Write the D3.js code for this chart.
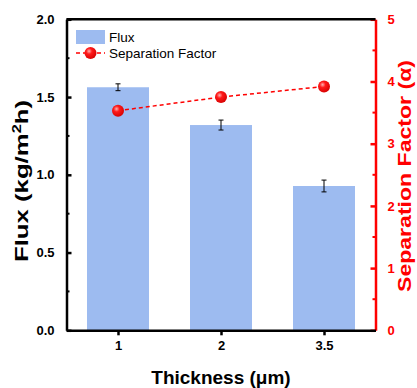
<!DOCTYPE html>
<html>
<head>
<meta charset="utf-8">
<script src="https://cdn.jsdelivr.net/npm/d3@7"></script>
<style>
  html, body { margin: 0; padding: 0; background: #fff; }
  svg { display: block; font-family: Arial, 'Liberation Sans', sans-serif; }
</style>
</head>
<body>
<svg id="chart" width="417" height="388"></svg>
<script>
const thickness = ['1', '2', '3.5']
const flux = [1.563, 1.32, 0.928]
const fluxErr = [0.022, 0.032, 0.038]
const sepFactor = [3.53, 3.75, 3.92]
const fluxTicks = [0, 0.5, 1.0, 1.5, 2.0]
const sepTicks = [0, 1, 2, 3, 4, 5]

const m = { left: 66.5, right: 375.5, top: 19.3, bottom: 330.3 }
const red = '#ff0000'
const barColor = '#9dbbf0'

const svg = d3.select('#chart')

const x = d3.scalePoint(thickness, [m.left, m.right]).padding(0.5)
const yL = d3.scaleLinear([0, 2], [m.bottom, m.top])
const yR = d3.scaleLinear([0, 5], [m.bottom, m.top])
const barW = 62

const defs = svg.append('defs')
const grad = defs.append('radialGradient').attr('id', 'ball')
  .attr('cx', '0.38').attr('cy', '0.35').attr('r', '0.7')
grad.append('stop').attr('offset', '0%').attr('stop-color', '#ffb0b0')
grad.append('stop').attr('offset', '35%').attr('stop-color', '#ff1a1a')
grad.append('stop').attr('offset', '100%').attr('stop-color', '#d40000')

// bars
svg.append('g').selectAll('rect').data(flux).join('rect')
  .attr('x', (d, i) => x(thickness[i]) - barW / 2)
  .attr('y', d => yL(d))
  .attr('width', barW)
  .attr('height', d => yL(0) - yL(d))
  .attr('fill', barColor)

// error bars
const eg = svg.append('g').attr('stroke', '#000').attr('stroke-width', 1)
flux.forEach((d, i) => {
  const cx = x(thickness[i])
  const lo = yL(d - fluxErr[i]), hi = yL(d + fluxErr[i])
  eg.append('line').attr('x1', cx).attr('x2', cx).attr('y1', lo).attr('y2', hi)
  eg.append('line').attr('x1', cx - 2.5).attr('x2', cx + 2.5).attr('y1', lo).attr('y2', lo)
  eg.append('line').attr('x1', cx - 2.5).attr('x2', cx + 2.5).attr('y1', hi).attr('y2', hi)
})

// separation factor line
const line = d3.line().x((d, i) => x(thickness[i])).y(d => yR(d))
svg.append('path').datum(sepFactor)
  .attr('d', line)
  .attr('fill', 'none')
  .attr('stroke', red)
  .attr('stroke-width', 1.5)
  .attr('stroke-dasharray', '4,3')
svg.append('g').selectAll('circle').data(sepFactor).join('circle')
  .attr('cx', (d, i) => x(thickness[i]))
  .attr('cy', d => yR(d))
  .attr('r', 6)
  .attr('fill', 'url(#ball)')

// axes
const leftAxis = d3.axisLeft(yL).tickValues(fluxTicks).tickSizeInner(-5).tickSizeOuter(0)
  .tickFormat(d3.format('.1f')).tickPadding(12)
const gL = svg.append('g').attr('transform', `translate(${m.left},0)`).call(leftAxis)
gL.selectAll('.tick line').attr('stroke-width', 2.5)
gL.selectAll('g.minor').data(d3.range(0.25, 2, 0.5)).join('g')
  .append('line').attr('x1', 0).attr('x2', 3)
  .attr('y1', d => yL(d)).attr('y2', d => yL(d))
  .attr('stroke', '#000').attr('stroke-width', 2)

const rightAxis = d3.axisRight(yR).tickValues(sepTicks).tickSizeInner(-5).tickSizeOuter(0)
  .tickFormat(d3.format('d')).tickPadding(12)
const gR = svg.append('g').attr('transform', `translate(${m.right},0)`).call(rightAxis)
gR.selectAll('.tick line').attr('stroke', red).attr('stroke-width', 2.5)
gR.selectAll('.tick text').attr('fill', red)
gR.selectAll('g.minor').data(d3.range(0.5, 5, 1)).join('g')
  .append('line').attr('x1', 0).attr('x2', -3)
  .attr('y1', d => yR(d)).attr('y2', d => yR(d))
  .attr('stroke', red).attr('stroke-width', 2)

const bottomAxis = d3.axisBottom(x).tickSizeInner(5).tickSizeOuter(0).tickPadding(5)
const gB = svg.append('g').attr('transform', `translate(0,${m.bottom})`).call(bottomAxis)
gB.selectAll('.tick line').attr('stroke-width', 2.5)

svg.append('line').attr('x1', m.left).attr('x2', m.right).attr('y1', m.top).attr('y2', m.top)
  .attr('stroke', '#000').attr('stroke-width', 2.5)

svg.selectAll('.domain').attr('stroke-width', 2.5)
gR.select('.domain').attr('stroke', red)
svg.selectAll('.tick text').attr('font-size', 13).attr('font-weight', 'bold')
  .attr('font-family', 'Arial, "Liberation Sans", sans-serif')

// axis titles
svg.append('text')
  .attr('transform', `translate(28,181) rotate(-90)`)
  .attr('text-anchor', 'middle')
  .attr('font-size', 19).attr('font-weight', 'bold')
  .attr('textLength', 162).attr('lengthAdjust', 'spacingAndGlyphs')
  .call(t => {
    t.append('tspan').text('Flux (kg/m')
    t.append('tspan').attr('font-size', 12).attr('dy', -7).text('2')
    t.append('tspan').attr('dy', 7).text('h)')
  })

svg.append('text')
  .attr('transform', `translate(411,176) rotate(-90)`)
  .attr('text-anchor', 'middle')
  .attr('font-size', 18).attr('font-weight', 'bold')
  .attr('fill', red)
  .attr('textLength', 232).attr('lengthAdjust', 'spacingAndGlyphs')
  .text('Separation Factor (α)')

svg.append('text')
  .attr('x', (m.left + m.right) / 2).attr('y', 384)
  .attr('text-anchor', 'middle')
  .attr('font-size', 19).attr('font-weight', 'bold')
  .text('Thickness (μm)')

// legend
const lg = svg.append('g')
lg.append('rect').attr('x', 76).attr('y', 30).attr('width', 29).attr('height', 14).attr('fill', barColor)
lg.append('text').attr('x', 109).attr('y', 42).attr('font-size', 13.5).text('Flux')
lg.append('line').attr('x1', 76).attr('x2', 105).attr('y1', 53).attr('y2', 53)
  .attr('stroke', red).attr('stroke-width', 1.5).attr('stroke-dasharray', '4,3')
lg.append('circle').attr('cx', 90.5).attr('cy', 53).attr('r', 6).attr('fill', 'url(#ball)')
lg.append('text').attr('x', 109).attr('y', 58).attr('font-size', 13.5).text('Separation Factor')
</script>
</body>
</html>
